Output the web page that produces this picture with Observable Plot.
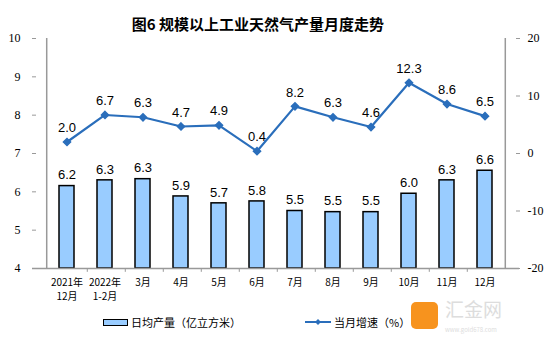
<!DOCTYPE html>
<html><head><meta charset="utf-8">
<script src="https://cdn.jsdelivr.net/npm/d3@7"></script>
<script src="https://cdn.jsdelivr.net/npm/@observablehq/plot@0.6"></script>
<style>
body{margin:0;background:#fff;font-family:"Noto Sans CJK SC",sans-serif;}
#wrap{position:relative;width:554px;height:353px;overflow:hidden;}
#title{position:absolute;left:-19px;top:13px;width:554px;text-align:center;font-size:15px;font-weight:bold;line-height:22px;color:#000;}
#chart{position:absolute;left:0;top:0;}
.leg{position:absolute;top:313px;font-size:11px;line-height:18px;color:#000;display:flex;align-items:center;}
#wm{position:absolute;left:411px;top:302px;}
</style></head>
<body><div id="wrap">
<div id="chart"></div>
<div id="title">图6 规模以上工业天然气产量月度走势</div>
<div class="leg" style="left:103px;"><span style="display:inline-block;width:23px;height:5px;background:#99ccff;border:1.5px solid #000;margin-right:3px;"></span>日均产量（亿立方米）</div>
<div class="leg" style="left:305px;"><svg width="26" height="8" style="margin-right:3px"><line x1="0" y1="4" x2="26" y2="4" stroke="#2a6ebb" stroke-width="2"/><path d="M13,1 L16,4 L13,7 L10,4Z" fill="#2a6ebb"/></svg>当月增速（%）</div>
<div id="wm"><div style="position:absolute;left:0;top:0;width:27px;height:27px;border-radius:5px;background:#f7931e;"></div><div style="position:absolute;left:34px;top:-3px;color:#ddd;font-size:19px;line-height:20px;white-space:nowrap;">汇金网</div><div style="position:absolute;left:34px;top:24px;font-size:6px;line-height:7px;color:#ddd;white-space:nowrap;">www.gold678.com</div></div>
</div>
<script>
const months = ["2021年\n12月","2022年\n1-2月","3月","4月","5月","6月","7月","8月","9月","10月","11月","12月"];
const output = [6.2,6.3,6.3,5.9,5.7,5.8,5.5,5.5,5.5,6.0,6.3,6.6];
const outputHeight = [6.15,6.3,6.33,5.88,5.7,5.75,5.5,5.47,5.47,5.95,6.3,6.55];
const growth = [2.0,6.7,6.3,4.7,4.9,0.4,8.2,6.3,4.6,12.3,8.6,6.5];
const leftTicks = [4,5,6,7,8,9,10];
const rightTicks = [-20,-10,0,10,20];

const ly = v => 4 + (v + 20) * 6 / 40;
const bars = months.map((m,i)=>({m, v: output[i], h: outputHeight[i]}));
const pts = months.map((m,i)=>({m, g: growth[i], y: ly(growth[i])}));
const W = 554, ML = 32, MR = 35;
const step = (W - ML - MR) / months.length;

const plot = Plot.plot({
  width: W, height: 310,
  marginLeft: ML, marginRight: MR, marginTop: 38, marginBottom: 42,
  style: {fontFamily: "Liberation Serif, serif", fontSize: "11px", color: "#000", background: "transparent"},
  x: {type: "band", domain: months, padding: 0.6, align: 0.5, label: null},
  y: {domain: [4, 10], label: null},
  marks: [
    Plot.ruleX([4], {x: () => months[0], dx: -step/2, y1: 4, y2: 10, stroke: "#999", strokeWidth: 1.5}),
    Plot.ruleX([4], {x: () => months[11], dx: step/2, y1: 4, y2: 10, stroke: "#999", strokeWidth: 1.5}),
    Plot.barY(bars, {x: "m", y1: 4, y2: "h", fill: "#99ccff", stroke: "#000", strokeWidth: 1.5}),
    Plot.ruleY([4], {stroke: "#999", strokeWidth: 1.5}),
    Plot.ruleX(months.slice(0, 11), {x: d => d, dx: step/2, y1: 4, y2: 3.9, stroke: "#999"}),
    Plot.axisY(leftTicks, {anchor: "left", tickSize: 0, tickPadding: 12, fontFamily: "Liberation Serif, serif", fontSize: 12, label: null}),
    Plot.axisY(leftTicks, {anchor: "left", tickSize: 4, dx: 4, text: null, stroke: "#999", label: null}),
    Plot.axisY(rightTicks.map(ly), {anchor: "right", tickSize: 0, tickPadding: 8, textAnchor: "start", tickFormat: d => String(Math.round((d - 4) / 0.15 - 20)), fontFamily: "Liberation Serif, serif", fontSize: 12, label: null}),
    Plot.axisY(rightTicks.map(ly), {anchor: "right", tickSize: 4, dx: -4, text: null, stroke: "#999", label: null}),
    Plot.axisX({tickSize: 0, tickPadding: 8, fontFamily: "Noto Sans CJK SC, sans-serif", fontSize: 10, lineHeight: 1.35, label: null}),
    Plot.text(bars, {x: "m", y: "h", text: d => d.v.toFixed(1), dy: -11, fontFamily: "Liberation Sans, Arial, sans-serif", fontSize: 13}),
    Plot.line(pts, {x: "m", y: "y", stroke: "#2a6ebb", strokeWidth: 2.2}),
    Plot.dot(pts, {x: "m", y: "y", symbol: "diamond2", r: 3.2, fill: "#2a6ebb", stroke: "#2a6ebb"}),
    Plot.text(pts, {x: "m", y: "y", text: d => d.g.toFixed(1), dy: -14, fontFamily: "Liberation Sans, Arial, sans-serif", fontSize: 13})
  ]
});
document.getElementById("chart").appendChild(plot);
</script>
</body></html>
